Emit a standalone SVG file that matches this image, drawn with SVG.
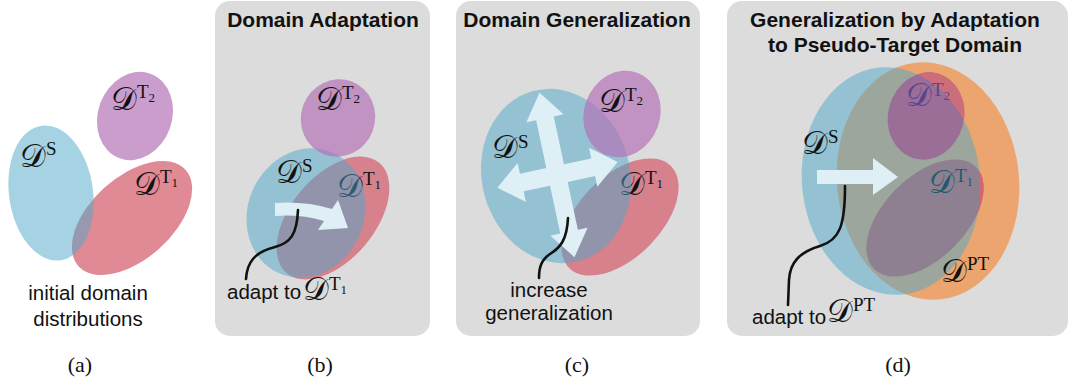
<svg xmlns="http://www.w3.org/2000/svg" width="1070" height="383" viewBox="0 0 1070 383">
  <defs>
    <style>
      .panel{fill:#dcdcdc}
      .src{fill:#4da7c9;fill-opacity:0.5}
      .t1{fill:#d66373;fill-opacity:0.75}
      .t2{fill:#b374b8;fill-opacity:0.7}
      .pt{fill:#ed9f62;fill-opacity:0.9}
      .title{font-family:"Liberation Sans",Arial,sans-serif;font-weight:bold;font-size:21px;fill:#111;text-anchor:middle}
      .note{font-family:"Liberation Sans",Arial,sans-serif;font-size:20.5px;fill:#111}
      .mid{text-anchor:middle}
      .cap{font-family:"Liberation Serif","Times New Roman",serif;font-size:22px;fill:#111;text-anchor:middle}
      .lbl{fill:#111}
      .cal{font-family:"DejaVu Serif","Liberation Serif",serif;font-size:32px}
      .sup{font-family:"Liberation Serif","Times New Roman",serif;font-size:19px}
      .sub{font-family:"Liberation Serif","Times New Roman",serif;font-size:13px}
      .lead{fill:none;stroke:#111;stroke-width:2.6;stroke-linecap:round}
      .flow{fill:#def0f6}
    </style>
    <!-- source domain of (d) and everything outside it -->
    <clipPath id="clip-out-src-d">
      <path clip-rule="evenodd" d="M700,0 H1070 V383 H700 Z M879.1,67.6 A89,114 -6 1,0 902.9,294.4 A89,114 -6 1,0 879.1,67.6 Z"/>
    </clipPath>
  </defs>

  <!-- panel backgrounds -->
  <g id="panels">
    <rect class="panel" x="215" y="1" width="215" height="335" rx="15"/>
    <rect class="panel" x="456" y="1" width="244" height="335" rx="15"/>
    <rect class="panel" x="727" y="1" width="341" height="335" rx="15"/>
  </g>

  <!-- (a) initial domain distributions -->
  <g id="a-target1">
    <ellipse class="t1" cx="132" cy="218" rx="41" ry="72" transform="rotate(48 132 218)"/>
    <text class="lbl" x="134" y="195"><tspan class="cal">𝒟</tspan><tspan class="sup" dy="-12">T</tspan><tspan class="sub" dy="4">1</tspan></text>
  </g>
  <g id="a-target2">
    <ellipse class="t2" cx="135" cy="116" rx="37" ry="45" transform="rotate(20 135 116)"/>
    <text class="lbl" x="111" y="110"><tspan class="cal">𝒟</tspan><tspan class="sup" dy="-12">T</tspan><tspan class="sub" dy="4">2</tspan></text>
  </g>
  <g id="a-source">
    <ellipse class="src" cx="51" cy="193" rx="42" ry="68" transform="rotate(-8 51 193)"/>
    <text class="lbl" x="20" y="167"><tspan class="cal">𝒟</tspan><tspan class="sup" dy="-12">S</tspan></text>
  </g>
  <text class="note mid" x="88" y="300">initial domain</text>
  <text class="note mid" x="88" y="326">distributions</text>

  <!-- (b) domain adaptation -->
  <text class="title" x="323" y="27">Domain Adaptation</text>
  <g id="b-target1">
    <ellipse class="t1" cx="333" cy="218" rx="42" ry="72" transform="rotate(40 333 218)"/>
    <text class="lbl" x="337" y="197"><tspan class="cal">𝒟</tspan><tspan class="sup" dy="-12">T</tspan><tspan class="sub" dy="4">1</tspan></text>
  </g>
  <g id="b-source">
    <ellipse class="src" cx="306" cy="213" rx="58" ry="66" transform="rotate(25 306 213)"/>
    <text class="lbl" x="276" y="183"><tspan class="cal">𝒟</tspan><tspan class="sup" dy="-11">S</tspan></text>
  </g>
  <g id="b-target2">
    <ellipse class="t2" cx="338" cy="118" rx="37" ry="39" transform="rotate(20 338 118)"/>
    <text class="lbl" x="316" y="110"><tspan class="cal">𝒟</tspan><tspan class="sup" dy="-11">T</tspan><tspan class="sub" dy="4">2</tspan></text>
  </g>
  <path id="b-adapt-arrow" class="flow" d="M275,203 Q305,201 332,209 L338,200 L348,228 L318,230 L324,221 Q300,214 275,216 Z"/>
  <text class="note" x="227" y="299">adapt to</text>
  <text class="lbl" x="303" y="300"><tspan class="cal">𝒟</tspan><tspan class="sup" dy="-10">T</tspan><tspan class="sub" dy="4">1</tspan></text>

  <!-- (c) domain generalization -->
  <text class="title" x="577" y="27">Domain Generalization</text>
  <g id="c-target1">
    <ellipse class="t1" cx="620" cy="217" rx="41" ry="72" transform="rotate(45 620 217)"/>
    <text class="lbl" x="619" y="195"><tspan class="cal">𝒟</tspan><tspan class="sup" dy="-11">T</tspan><tspan class="sub" dy="4">1</tspan></text>
  </g>
  <g id="c-source">
    <ellipse class="src" cx="556" cy="176" rx="74" ry="88" transform="rotate(-15 556 176)"/>
  </g>
  <g id="c-target2">
    <ellipse class="t2" cx="622" cy="114" rx="38" ry="44" transform="rotate(20 622 114)"/>
    <text class="lbl" x="599" y="112"><tspan class="cal">𝒟</tspan><tspan class="sup" dy="-11">T</tspan><tspan class="sub" dy="4">2</tspan></text>
  </g>
  <path id="c-expand-arrows" class="flow" transform="translate(557 175) rotate(-12)"
        d="M0,-84 L19,-58 L9,-58 L9,-9 L37,-9 L37,-20 L62,0 L37,20 L37,9 L9,9 L9,58 L19,58 L0,84 L-19,58 L-9,58 L-9,9 L-36,9 L-36,20 L-61,0 L-36,-20 L-36,-9 L-9,-9 L-9,-58 L-19,-58 Z"/>
  <text class="lbl" x="492" y="158"><tspan class="cal">𝒟</tspan><tspan class="sup" dy="-10">S</tspan></text>
  <text class="note mid" x="549" y="297">increase</text>
  <text class="note mid" x="549" y="320">generalization</text>

  <!-- (d) generalization by adaptation to pseudo-target domain -->
  <text class="title" x="895" y="27">Generalization by Adaptation</text>
  <text class="title" x="895" y="52">to Pseudo-Target Domain</text>
  <g id="d-pseudo-target">
    <ellipse class="pt" cx="928" cy="181" rx="91" ry="119" transform="rotate(-6 928 181)"/>
  </g>
  <g id="d-source">
    <ellipse class="src" cx="891" cy="181" rx="89" ry="114" transform="rotate(-6 891 181)"/>
  </g>
  <g id="d-target2">
    <ellipse fill="#9b6e98" cx="926" cy="116" rx="38" ry="44" transform="rotate(15 926 116)"/>
    <g clip-path="url(#clip-out-src-d)">
      <ellipse fill="#cc6e7a" cx="926" cy="116" rx="38" ry="44" transform="rotate(15 926 116)"/>
    </g>
    <text fill="#5a4490" x="906" y="106"><tspan class="cal">𝒟</tspan><tspan class="sup" dy="-10">T</tspan><tspan class="sub" dy="4">2</tspan></text>
  </g>
  <g id="d-target1">
    <ellipse fill="#8f8091" cx="925" cy="218" rx="41" ry="72" transform="rotate(45 925 218)"/>
    <g clip-path="url(#clip-out-src-d)">
      <ellipse fill="#d7646e" cx="925" cy="218" rx="41" ry="72" transform="rotate(45 925 218)"/>
    </g>
    <text fill="#1e5a70" x="929" y="193"><tspan class="cal">𝒟</tspan><tspan class="sup" dy="-11">T</tspan><tspan class="sub" dy="4">1</tspan></text>
  </g>
  <text class="lbl" x="802" y="154"><tspan class="cal">𝒟</tspan><tspan class="sup" dy="-11">S</tspan></text>
  <text class="lbl" x="941" y="282"><tspan class="cal">𝒟</tspan><tspan class="sup" dy="-12">PT</tspan></text>
  <polygon id="d-adapt-arrow" class="flow" points="817,170 873,170 873,158 898,177 873,195 873,184 817,184"/>
  <text class="note" x="752" y="324">adapt to</text>
  <text class="lbl" x="827" y="322"><tspan class="cal">𝒟</tspan><tspan class="sup" dy="-11">PT</tspan></text>

  <!-- leader lines from the arrows to their notes -->
  <g id="connectors">
    <path class="lead" d="M298,210 C297,235 290,243 275,247 C255,252 247,262 246,279"/>
    <path class="lead" d="M568,218 C567,240 560,248 550,254 C541,260 539,268 539,278"/>
    <path class="lead" d="M845,186 C845,225 840,240 820,246 C800,252 790,262 789,280 L788,305"/>
  </g>

  <!-- sub-figure captions -->
  <text class="cap" x="80" y="372">(a)</text>
  <text class="cap" x="320" y="372">(b)</text>
  <text class="cap" x="577" y="372">(c)</text>
  <text class="cap" x="898" y="372">(d)</text>
</svg>
